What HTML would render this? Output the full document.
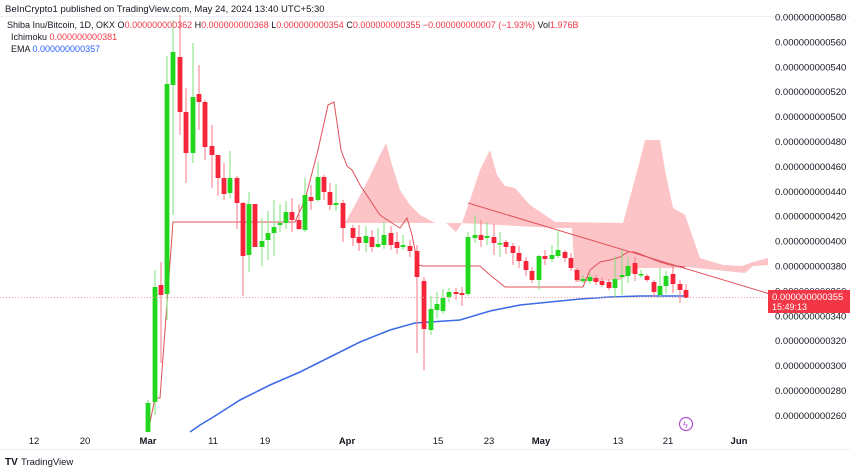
<!DOCTYPE html>
<html><head><meta charset="utf-8"><style>
html,body{margin:0;padding:0;background:#fff;width:850px;height:471px;overflow:hidden}
svg{display:block;font-family:"Liberation Sans",sans-serif}
</style></head><body>
<svg id="s" width="850" height="471" xmlns="http://www.w3.org/2000/svg">
<rect width="850" height="471" fill="#fff"/>
<text x="5" y="12" font-size="9.5" fill="#131722">BeInCrypto1 published on TradingView.com, May 24, 2024 13:40 UTC+5:30</text>
<line x1="0" y1="16.5" x2="850" y2="16.5" stroke="#eef0f3"/>
<line x1="0" y1="449.5" x2="850" y2="449.5" stroke="#eef0f3"/>
<g id="cloud" fill="#fcc4c6">
<polygon points="345,223 355,205 368,180 380,155 386,143 392,165 400,190 410,205 420,215 435,223"/>
<polygon points="446,223 462,223 456,232"/>
<polygon points="462,223 470,200 480,170 490,150 497,175 505,186 515,188 530,205 545,215 555,222 623,223 632,190 640,160 645,140 660,140 665,170 673,208 685,215 700,258 723,265 742,266 753,262 768,258 768,265 753,266 745,273 687,267 680,268 640,268 620,280 575,282 572,228 555,228"/>
</g>
<g id="lines" fill="none"></g>
<g id="c"></g>
<line x1="0" y1="297.5" x2="768" y2="297.5" stroke="#f7a0a8" stroke-width="1" stroke-dasharray="1,2"/>
<g id="ax" font-size="9.5" fill="#131722"></g>
<rect x="768" y="290" width="82" height="23" fill="#f23645"/>
<text x="772" y="300" font-size="9.5" fill="#fff">0.000000000355</text>
<text x="772" y="310" font-size="9" fill="#fff">15:49:13</text>
<circle cx="686" cy="424" r="6.5" fill="#fff" stroke="#b04fd6" stroke-width="1.2"/>
<text x="683" y="428" font-size="9" fill="#b04fd6">ϟ</text>
<text x="7" y="28" font-size="9" fill="#131722">Shiba Inu/Bitcoin, 1D, OKX  O<tspan fill="#f23645">0.000000000362</tspan>  H<tspan fill="#f23645">0.000000000368</tspan>  L<tspan fill="#f23645">0.000000000354</tspan>  C<tspan fill="#f23645">0.000000000355  −0.000000000007 (−1.93%)</tspan>  Vol<tspan fill="#f23645">1.976B</tspan></text>
<text x="11" y="40" font-size="9" fill="#131722">Ichimoku  <tspan fill="#f23645">0.000000000381</tspan></text>
<text x="11" y="52" font-size="9" fill="#131722">EMA  <tspan fill="#2962ff">0.000000000357</tspan></text>
<text x="5" y="465" font-size="10" font-weight="bold" fill="#131722">TV</text>
<text x="21" y="465" font-size="9.5" fill="#131722">TradingView</text>
</svg>
<script>
var NS="http://www.w3.org/2000/svg";
function el(p,t,a){var e=document.createElementNS(NS,t);for(var k in a)e.setAttribute(k,a[k]);p.appendChild(e);return e;}
var c=document.getElementById('c');
var d=[[148,432,403,400,432],[155,402,287,270,415],[161,285,295,262,363],[167,294,84,56,320],[173,85,52,20,215],
[180,57,112,15,135],[186,112,153,88,183],[193,153,97,43,163],[199,94,102,65,130],[205,102,147,100,160],[212,146,155,125,188],
[218,155,178,162,196],[224,178,194,163,200],[230,193,178,151,198],[237,178,203,176,229],[243,203,256,202,296],[249,255,204,192,272],
[255,204,247,205,246],[262,247,241,218,266],[268,240,233,211,260],[274,233,227,200,256],[280,225,223,204,232],[286,223,212,201,229],
[292,212,220,198,232],[299,220,229,204,230],[305,230,195,178,232],[311,197,201,185,210],[318,200,177,162,202],[324,177,192,175,200],
[330,192,205,183,210],[336,205,203,184,211],[343,203,228,200,242],[353,228,238,225,246],[359,237,243,225,251],[366,243,236,226,252],
[372,237,247,230,252],[378,247,244,228,248],[384,245,235,222,249],[391,233,245,226,250],[397,242,248,232,254],[403,247,245,235,250],
[410,246,251,240,257],[417,251,277,245,353],[424,281,329,277,370],[431,330,309,296,335],[437,310,304,292,318],[443,311,298,289,314],
[449,297,292,288,302],[456,292,294,288,300],[462,293,295,287,306],[468,294,237,232,296],[475,238,235,215,243],[481,235,240,220,247],
[487,238,236,222,245],[494,237,243,224,255],[500,244,243,232,257],[506,242,247,240,254],[513,246,253,243,265],[519,253,261,246,268],
[526,261,270,257,276],[532,271,280,267,283],[539,280,256,255,290],[545,256,259,250,265],[552,259,255,245,262],[558,256,250,230,258],
[565,252,258,250,262],[571,258,268,253,271],[577,270,280,268,281],[583,281,279,275,283],[590,281,277,273,284],[596,278,282,275,285],
[602,281,285,278,287],[609,282,288,279,290],[615,288,279,256,298],[622,277,275,250,295],[628,276,266,257,283],[635,263,274,257,281],
[641,275,274,270,278],[647,276,280,274,282],[654,282,292,280,297],[660,295,286,268,298],[666,286,276,271,294],[673,274,284,266,293],
[680,284,290,280,303],[686,290,298,284,298]];
d.forEach(function(q){var g=q[2]<q[1];var col=g?'#22d61e':'#f7253a';var wc=g?'#7ee07a':'#f47a86';
el(c,'line',{x1:q[0],x2:q[0],y1:q[3],y2:q[4],stroke:wc,'stroke-width':1});
var t=Math.min(q[1],q[2]),h=Math.max(1.5,Math.abs(q[1]-q[2]));
el(c,'rect',{x:q[0]-2.4,y:t,width:4.8,height:h,fill:col});});
var L=document.getElementById('lines');
el(L,'polyline',{stroke:'#e0505a','stroke-width':1,points:'148,432 155,398 160,398 173,222 295,222 305,200 318,150 328,105 334,102 341,150 347,166 352,170 360,185 370,200 380,215 395,225 400,228 407,218 412,235 418,265 423,266 480,266 490,275 505,287 583,287 590,270 600,262 610,260 620,257 628,252 635,252 650,258 660,262 670,265 685,267'});
el(L,'line',{x1:468,y1:203,x2:770,y2:294,stroke:'#e0505a','stroke-width':1});
el(L,'polyline',{stroke:'#3d6be6','stroke-width':1.6,points:'190,432 200,425 215,416 240,400 270,385 300,372 330,357 360,342 390,330 415,323 430,322 460,320 490,311 520,305 550,302 580,299 610,297 640,296 686,296'});
var ax=document.getElementById('ax');
for(var v=580;v>=260;v-=20){var y=17+(580-v)*1.245+3.5;var t=el(ax,'text',{x:775,y:y});t.textContent='0.000000000'+v;}
[['12',34],['20',85],['Mar',148],['11',213],['19',265],['Apr',347],['15',438],['23',489],['May',541],['13',618],['21',668],['Jun',739]].forEach(function(a){
var t=el(ax,'text',{x:a[1],y:444,'text-anchor':'middle','font-weight':(isNaN(a[0])?'bold':'normal')});t.textContent=a[0];});
</script>
</body></html>
